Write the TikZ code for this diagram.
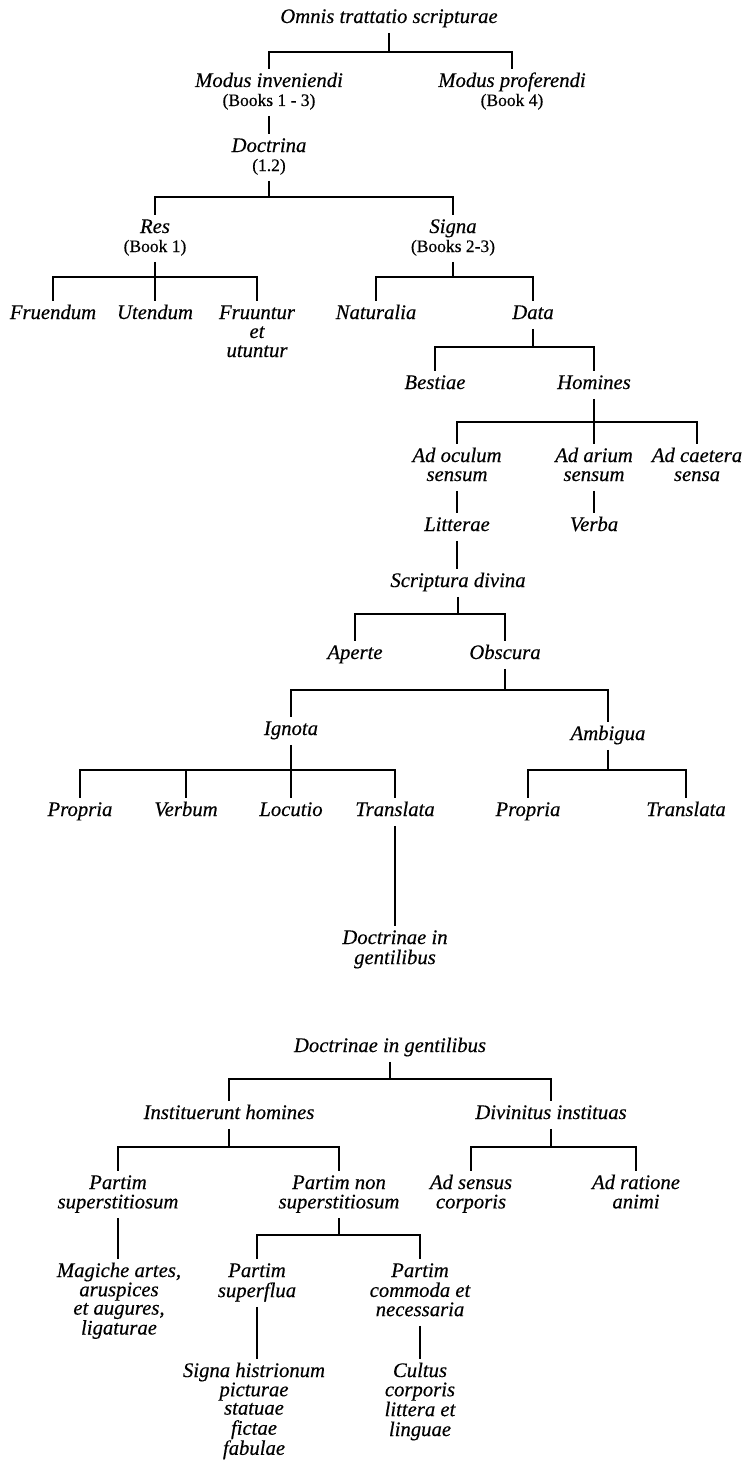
\documentclass[tikz,border=0pt]{standalone}
\usepackage{fontspec}
\setmainfont{Liberation Serif}[FakeBold=0.35]
\newcommand{\mlines}[1]{\begin{tabular}[t]{@{}c@{}}#1\end{tabular}}
\newcommand{\parenl}[1]{{\fontsize{17.5}{19}\selectfont\upshape #1}}
\tikzset{
  tn/.style={anchor=base, inner xsep=0pt, inner ysep=4pt, text height=14pt,
    font=\fontsize{20.7}{19}\selectfont\itshape},
  tight/.style={font=\fontsize{20.7}{18.4}\selectfont\itshape},
  conn/.style={line width=1.3pt, black},
}
\begin{document}
\begin{tikzpicture}[x=1pt,y=-1pt]
\fill[white] (0,0) rectangle (743,1461);
\useasboundingbox (0,0) rectangle (743,1461);
% nodes
\node[tn] (omnis) at (389,23) {\mlines{Omnis trattatio scripturae}};
\node[tn] (modinv) at (269,87) {\mlines{Modus inveniendi\\\parenl{(Books 1 - 3)}}};
\node[tn] (modprof) at (512,87) {\mlines{Modus proferendi\\\parenl{(Book 4)}}};
\node[tn] (doctrina) at (269,152) {\mlines{Doctrina\\\parenl{(1.2)}}};
\node[tn] (res) at (155,233) {\mlines{Res\\\parenl{(Book 1)}}};
\node[tn] (signa) at (453,233) {\mlines{Signa\\\parenl{(Books 2-3)}}};
\node[tn] (fruendum) at (53,319) {\mlines{Fruendum}};
\node[tn] (utendum) at (155,319) {\mlines{Utendum}};
\node[tn] (fruuntur) at (257,319) {\mlines{Fruuntur\\et\\utuntur}};
\node[tn] (naturalia) at (376,319) {\mlines{Naturalia}};
\node[tn] (data) at (533,319) {\mlines{Data}};
\node[tn] (bestiae) at (435,389) {\mlines{Bestiae}};
\node[tn] (homines) at (594,389) {\mlines{Homines}};
\node[tn] (adoculum) at (457,462) {\mlines{Ad oculum\\sensum}};
\node[tn] (adarium) at (594,462) {\mlines{Ad arium\\sensum}};
\node[tn] (adcaetera) at (697,462) {\mlines{Ad caetera\\sensa}};
\node[tn] (litterae) at (457,531) {\mlines{Litterae}};
\node[tn] (verba) at (594,531) {\mlines{Verba}};
\node[tn] (scriptura) at (458,587) {\mlines{Scriptura divina}};
\node[tn] (aperte) at (355,659) {\mlines{Aperte}};
\node[tn] (obscura) at (505,659) {\mlines{Obscura}};
\node[tn] (ignota) at (291,735) {\mlines{Ignota}};
\node[tn] (ambigua) at (608,740) {\mlines{Ambigua}};
\node[tn] (propriaA) at (80,816) {\mlines{Propria}};
\node[tn] (verbum) at (186,816) {\mlines{Verbum}};
\node[tn] (locutio) at (291,816) {\mlines{Locutio}};
\node[tn] (translataA) at (395,816) {\mlines{Translata}};
\node[tn] (propriaB) at (528,816) {\mlines{Propria}};
\node[tn] (translataB) at (686,816) {\mlines{Translata}};
\node[tn] (doctgentA) at (395,944) {\mlines{Doctrinae in\\gentilibus}};
\node[tn] (doctgentB) at (390,1052) {\mlines{Doctrinae in gentilibus}};
\node[tn] (instit) at (229,1119) {\mlines{Instituerunt homines}};
\node[tn] (divin) at (551,1119) {\mlines{Divinitus instituas}};
\node[tn] (partsup) at (118,1189) {\mlines{Partim\\superstitiosum}};
\node[tn] (partnon) at (339,1189) {\mlines{Partim non\\superstitiosum}};
\node[tn] (adsensus) at (471,1189) {\mlines{Ad sensus\\corporis}};
\node[tn] (adratione) at (636,1189) {\mlines{Ad ratione\\animi}};
\node[tn,tight] (magiche) at (119,1277) {\mlines{Magiche artes,\\aruspices\\et augures,\\ligaturae}};
\node[tn,tight] (superflua) at (257,1277) {\mlines{Partim\\superflua}};
\node[tn,tight] (commoda) at (420,1277) {\mlines{Partim\\commoda et\\necessaria}};
\node[tn,tight] (signahist) at (254,1377) {\mlines{Signa histrionum\\picturae\\statuae\\fictae\\fabulae}};
\node[tn,tight] (cultus) at (420,1377) {\mlines{Cultus\\corporis\\littera et\\linguae}};
% connectors
\draw[conn] (omnis.south) -- (omnis.south |- 0,52) -| (modinv.north);
\draw[conn] (omnis.south |- 0,52) -| (modprof.north);
\draw[conn] (modinv.south) -- (modinv.south |- doctrina.north);
\draw[conn] (doctrina.south) -- (doctrina.south |- 0,197) -| (res.north);
\draw[conn] (doctrina.south |- 0,197) -| (signa.north);
\draw[conn] (res.south) -- (res.south |- 0,277) -| (fruendum.north);
\draw[conn] (res.south |- 0,277) -| (utendum.north);
\draw[conn] (res.south |- 0,277) -| (fruuntur.north);
\draw[conn] (signa.south) -- (signa.south |- 0,277) -| (naturalia.north);
\draw[conn] (signa.south |- 0,277) -| (data.north);
\draw[conn] (data.south) -- (data.south |- 0,347) -| (bestiae.north);
\draw[conn] (data.south |- 0,347) -| (homines.north);
\draw[conn] (homines.south) -- (homines.south |- 0,422) -| (adoculum.north);
\draw[conn] (homines.south |- 0,422) -| (adarium.north);
\draw[conn] (homines.south |- 0,422) -| (adcaetera.north);
\draw[conn] (adoculum.south) -- (adoculum.south |- litterae.north);
\draw[conn] (adarium.south) -- (adarium.south |- verba.north);
\draw[conn] (litterae.south) -- (litterae.south |- scriptura.north);
\draw[conn] (scriptura.south) -- (scriptura.south |- 0,614) -| (aperte.north);
\draw[conn] (scriptura.south |- 0,614) -| (obscura.north);
\draw[conn] (obscura.south) -- (obscura.south |- 0,690) -| (ignota.north);
\draw[conn] (obscura.south |- 0,690) -| (ambigua.north);
\draw[conn] (ignota.south) -- (ignota.south |- 0,770) -| (propriaA.north);
\draw[conn] (ignota.south |- 0,770) -| (verbum.north);
\draw[conn] (ignota.south |- 0,770) -| (locutio.north);
\draw[conn] (ignota.south |- 0,770) -| (translataA.north);
\draw[conn] (ambigua.south) -- (ambigua.south |- 0,770) -| (propriaB.north);
\draw[conn] (ambigua.south |- 0,770) -| (translataB.north);
\draw[conn] (translataA.south) -- (translataA.south |- doctgentA.north);
\draw[conn] (doctgentB.south) -- (doctgentB.south |- 0,1079) -| (instit.north);
\draw[conn] (doctgentB.south |- 0,1079) -| (divin.north);
\draw[conn] (instit.south) -- (instit.south |- 0,1147) -| (partsup.north);
\draw[conn] (instit.south |- 0,1147) -| (partnon.north);
\draw[conn] (divin.south) -- (divin.south |- 0,1147) -| (adsensus.north);
\draw[conn] (divin.south |- 0,1147) -| (adratione.north);
\draw[conn] (partsup.south) -- (partsup.south |- magiche.north);
\draw[conn] (partnon.south) -- (partnon.south |- 0,1235) -| (superflua.north);
\draw[conn] (partnon.south |- 0,1235) -| (commoda.north);
\draw[conn] (superflua.south) -- (superflua.south |- signahist.north);
\draw[conn] (commoda.south) -- (commoda.south |- cultus.north);
\end{tikzpicture}
\end{document}
